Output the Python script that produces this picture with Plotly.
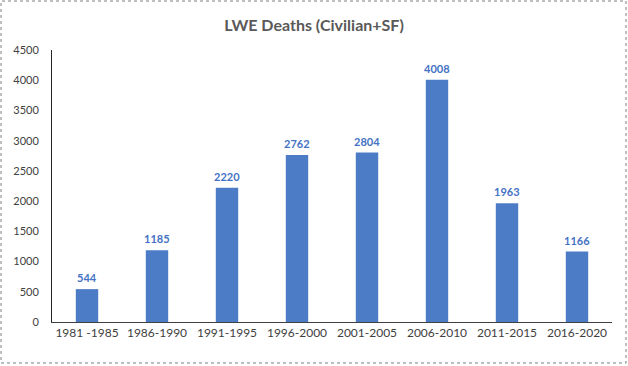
import plotly.graph_objects as go

categories = ["1981 -1985", "1986-1990", "1991-1995", "1996-2000", "2001-2005", "2006-2010", "2011-2015", "2016-2020"]
deaths = [544, 1185, 2220, 2762, 2804, 4008, 1963, 1166]

FONT = "Lato"

fig = go.Figure()
fig.add_trace(go.Bar(
    x=categories, y=deaths,
    marker=dict(color="#4a77c1", line=dict(width=0),
                pattern=dict(shape=".", fgcolor="#2c58a4", bgcolor="#5585cf", size=2, solidity=0.5)),
    hoverinfo="x+y",
))
for c, v in zip(categories, deaths):
    fig.add_annotation(x=c, y=v, text=str(v), showarrow=False, yanchor="bottom", yshift=3,
                       font=dict(family=FONT, size=11, color="#4472c4", weight="bold"))
fig.update_layout(
    width=628, height=366,
    margin=dict(l=52, r=16, t=50, b=44),
    paper_bgcolor="white", plot_bgcolor="white",
    bargap=0.68,
    showlegend=False,
    title=dict(text="LWE Deaths (Civilian+SF)", x=0.5, xanchor="center", xref="container",
               y=1 - 25/366, yanchor="middle",
               font=dict(family=FONT, size=16, color="#595959", weight="bold")),
    xaxis=dict(showline=True, linecolor="#404040", linewidth=1, ticks="", showgrid=False,
               tickfont=dict(family=FONT, size=12, color="#404040")),
    yaxis=dict(range=[0, 4500], dtick=500, showline=True, linecolor="#262626", linewidth=1,
               ticks="", showgrid=False, zeroline=False, ticklabelstandoff=10,
               tickfont=dict(family=FONT, size=11, color="#404040")),
    shapes=[dict(type="rect", xref="paper", yref="paper",
                 x0=(1-52)/560, x1=(626-52)/560, y0=(322-363)/272, y1=(322-1)/272,
                 line=dict(color="#808080", width=1, dash="dot"))],
)
fig.write_html("out.html", config={"displayModeBar": False},
               post_script="document.body.style.margin='0';")
